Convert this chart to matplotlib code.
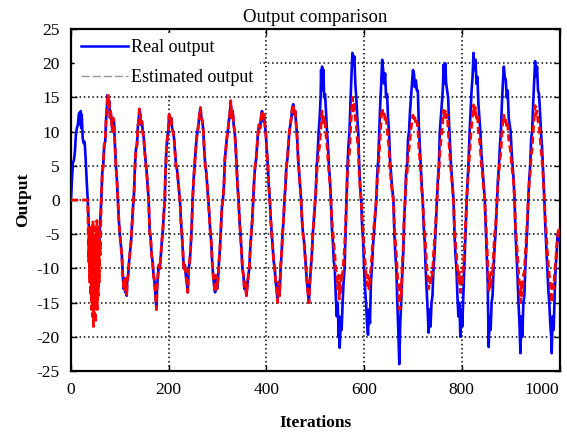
import matplotlib
matplotlib.use("Agg")
import matplotlib.pyplot as plt
from matplotlib.lines import Line2D

# --- data (iteration, output) ---
# head: 0..61, estimator still settling
iters_head = [0, 2, 4, 6, 8, 10, 12, 14, 16, 18, 19, 20, 21, 22, 24, 26, 28, 30, 32, 34,
              35, 36, 37, 38, 39, 40, 41, 42, 43, 44, 45, 46, 47, 48, 49, 50, 51, 52,
              53, 54, 55, 56, 57, 58, 59, 60, 61]
real_head = [0, 3, 5.5, 5.8, 7, 9.5, 10.5, 11, 12.5, 12.8, 11, 13, 10.5, 12.5, 9, 8.3, 8.5, 6, 3, 0.5,
             -1, -3, -5, -6, -8, -9, -10, -11, -11.5, -12, -11, -12.5, -11.5, -12, -13, -12, -11,
             -12, -10.5, -11, -9, -8, -7.5, -6, -4.5, -3, -1.5]
est_head = [0, 0, 0, 0, 0, 0, 0, 0, 0, 0, 0, 0, 0, 0, 0, 0, 0, 0, 0, 0,
            -3, -9, -4, -12, -5, -14, -4, -16, -6, -17, -3, -18.5, -5, -17, -4, -18, -6,
            -15, -3, -16, -5, -14, -4, -12, -6, -8, -3]

# middle: 62..497, estimate sits on top of the real output
iters_mid = [62, 64, 66, 68, 70, 72, 74, 75, 77, 78, 80, 81, 83, 85, 86, 88, 90, 92, 94, 96,
             98, 100, 102, 104, 106, 108, 109, 111, 112, 114, 115, 117, 119, 121, 123, 125, 127,
             129, 131, 133, 135, 137, 139, 140, 142, 143, 145, 147, 149, 151, 153, 155, 157, 159,
             161, 163, 165, 167, 169, 171, 173, 175, 176, 178, 180, 182, 184, 186, 188, 190, 192,
             193, 195, 197, 199, 201, 203, 205, 207, 209, 211, 213, 215, 217, 219, 221, 223, 225,
             227, 229, 231, 233, 235, 237, 239, 241, 243, 245, 247, 249, 251, 253, 255, 257, 259,
             261, 263, 265, 267, 269, 271, 273, 275, 277, 279, 281, 283, 285, 287, 289, 291, 293,
             295, 297, 299, 301, 303, 305, 307, 309, 311, 313, 315, 317, 319, 321, 323, 325, 327,
             329, 331, 333, 335, 337, 339, 341, 343, 345, 347, 349, 351, 353, 355, 357, 359, 361,
             363, 365, 367, 369, 371, 373, 375, 377, 379, 381, 383, 385, 387, 389, 391, 393, 395,
             397, 399, 401, 403, 405, 407, 409, 411, 413, 415, 417, 419, 421, 423, 425, 427, 429,
             431, 433, 435, 437, 439, 441, 443, 445, 447, 449, 451, 453, 455, 457, 459, 461, 463,
             465, 467, 469, 471, 473, 475, 477, 479, 481, 483, 485, 487, 489, 491, 493, 495, 497]
real_mid = [0, 4, 5, 8, 8.5, 12, 14, 16.5, 13.5, 14.5, 12, 13, 11.5, 10, 12, 11.5, 8, 5, 3, 0,
            -3, -5, -6.5, -8, -11, -13, -11.5, -13.5, -11.5, -14, -12, -11, -9, -7.5, -6, -3.5, -1,
            1, 5, 7.5, 8, 10.8, 12, 13.3, 12.5, 11, 11.5, 10, 9, 7, 5.5, 4, 2, 0,
            -4.5, -5.5, -8, -9, -11, -12, -14, -16, -13, -11, -9.5, -10, -8, -6, -4.5, -2, 0,
            3, 7, 9, 10, 12.5, 11, 12, 10.5, 10, 9, 7, 5, 4.5, 3, 1.5, 0, -3,
            -5, -7.5, -10, -9.5, -11, -12, -13.5, -10, -9, -7, -4, 0, 3, 5, 7, 9, 10,
            11, 12.5, 13.5, 12, 11.5, 10, 7, 5, 4, 2, 0, -2, -4.5, -6, -9, -11, -12.5,
            -13.5, -11, -13, -11.5, -9, -7, -4, -1, 0, 2, 6, 7.5, 9, 10, 11.5, 12.5, 14.5,
            12, 13, 11, 10, 8, 5, 2, 0, -3, -5, -7.5, -10, -11, -13, -12, -14, -12.5,
            -11, -10, -7, -5, -3, 0, 3, 5, 6, 8, 10, 11, 10.5, 12, 13, 11.5, 12.5,
            11, 9.5, 7, 5, 2, 0, -3, -5, -7, -9, -10, -12, -13, -15, -12, -14, -10,
            -8, -5, -3, 0, 2, 5, 6, 8, 10, 11, 12, 13.5, 14, 12.5, 13, 11, 9,
            6, 4, 2, 0, -3, -5, -6, -8, -10, -12, -13.5, -15, -12, -10, -8, -5, -3]

# tail: 499..1000, real output grows, estimate lags in amplitude
iters_tail = [499, 501, 503, 505, 507, 509, 511, 512, 513, 514, 516, 517, 518, 520, 522, 524, 526,
              528, 530, 532, 534, 536, 538, 540, 542, 544, 546, 548, 549, 550, 552, 554, 556, 558,
              560, 562, 564, 566, 568, 570, 572, 574, 576, 578, 580, 582, 584, 586, 588, 590, 592,
              594, 596, 598, 600, 602, 604, 606, 608, 610, 612, 614, 616, 618, 620, 622, 625, 627,
              629, 631, 633, 635, 637, 639, 641, 643, 645, 647, 649, 651, 653, 655, 657, 660, 662,
              664, 666, 668, 670, 672, 674, 676, 678, 680, 682, 684, 686, 688, 690, 692, 694, 696,
              698, 700, 702, 704, 706, 708, 710, 712, 714, 716, 718, 720, 722, 724, 726, 728, 730,
              732, 734, 736, 738, 740, 742, 744, 746, 749, 751, 753, 755, 757, 759, 761, 763, 764,
              766, 768, 770, 772, 774, 776, 778, 780, 783, 785, 787, 789, 791, 793, 795, 797, 799,
              801, 803, 805, 807, 810, 812, 814, 816, 818, 820, 822, 824, 826, 828, 830, 832, 834,
              836, 838, 840, 842, 845, 847, 849, 851, 853, 855, 857, 859, 861, 863, 865, 867, 869,
              872, 874, 876, 878, 880, 882, 884, 886, 888, 890, 892, 894, 896, 898, 900, 902, 904,
              906, 908, 910, 912, 914, 916, 918, 920, 922, 924, 926, 928, 930, 932, 934, 936, 938,
              940, 942, 944, 946, 948, 950, 952, 954, 956, 958, 960, 962, 964, 966, 969, 971, 973,
              975, 977, 979, 981, 983, 984, 986, 988, 990, 992, 994, 996, 998, 1000]
real_tail = [-1, 1, 5, 7, 10, 12, 15, 19, 16, 19.5, 17, 19, 15, 15.5, 13, 10, 8,
             5, 3, 0, -4, -6, -9, -10, -14, -17, -15, -20, -17, -21.6, -18, -19, -15, -12,
             -10, -5, 0, 5, 8, 10, 14, 18, 21.5, 20, 21, 17, 15, 12, 10, 5, 2,
             0, -4, -6, -10, -13, -15, -18, -19.7, -16, -18, -12, -10, -7, -5, -3, 0, 4,
             6, 10, 14, 17, 20.5, 19, 17, 18.5, 15, 15.5, 12, 10, 6, 4, 2, 0, -5,
             -8, -10, -15, -19, -24, -18, -15, -11, -8, -3, 0, 4, 5, 9, 10, 13, 15,
             17, 19, 18.5, 16.5, 17.5, 16, 16, 11, 8, 5, 2, 0, -4, -6, -10, -13, -16,
             -19.4, -16, -18.5, -15, -14, -10, -8, -5, 0, 3, 5, 10, 12, 14, 16, 19.8, 17,
             20, 17, 16, 15, 11, 8, 5, 3, 0, -5, -8, -10, -14, -17, -15, -20, -16,
             -18.5, -14, -10, -6, 0, 3, 6, 10, 13, 16, 18, 21.5, 19, 20.5, 17, 18, 14,
             12, 10, 7, 5, 2, 0, -4, -8, -12, -21.5, -17, -19, -15, -14, -10, -7, -5,
             0, 3, 5, 8, 10, 14, 17, 19.5, 18, 17.5, 15, 16, 12, 11, 10, 7, 5,
             3, 0, -5, -8, -11, -15, -18, -22.4, -17, -20, -15, -14, -10, -7, -4, 0, 3,
             5, 9, 10, 14, 17, 20.3, 18, 19.5, 16, 15.5, 13, 10, 8, 5, 0, -4, -7,
             -10, -13, -15, -18, -20, -22.4, -17, -19, -14, -10, -8, -5, -6, -5]
est_tail = [-1, 1, 4, 5.5, 7, 8, 10, 11.5, 12, 13, 11, 12.5, 11, 11.5, 9.5, 8, 6,
            4, 2.5, 0, -3, -4.5, -6.5, -8, -10, -11, -13, -11, -14.5, -12, -13.5, -10.5, -11, -9,
            -7, -3.5, 0, 4, 6, 7, 10, 12.5, 15, 13, 14, 12, 11, 9, 7.5, 4, 1.5,
            0, -3, -4.5, -7, -9, -11, -12.5, -11, -13, -11.5, -10, -8, -5.5, -4, -2.5, 0, 3,
            4.5, 7, 9.5, 12, 13.4, 12.5, 13, 11.5, 12, 10.5, 9, 7.5, 4.5, 3, 1.5, 0, -4,
            -6, -8, -10.5, -13, -16, -12, -14, -9.5, -7, -2.5, 0, 3, 4, 6.5, 7.5, 9, 10.5,
            11.5, 12.4, 11.5, 12, 11, 11.5, 10.5, 8, 6, 4, 1.5, 0, -3, -4.5, -7, -9.5, -11,
            -13, -11.5, -12.5, -10.5, -11, -8, -6, -4, 0, 2.5, 4, 7, 8.5, 10, 11.5, 13.1, 12,
            13, 12, 12.5, 10.5, 8, 6, 4, 2.5, 0, -4, -6, -8, -10, -12, -10.5, -13.5, -11,
            -12.5, -10, -7.5, -4.5, 0, 2.5, 4.5, 7, 9, 11, 12.5, 13.9, 12.5, 13.5, 12, 12.5, 10,
            9, 7.5, 5, 4, 1.5, 0, -3, -6, -9, -13.5, -11, -13, -10.5, -11, -8, -5, -4,
            0, 2.5, 4, 6, 7, 9.5, 11.5, 12.4, 11.5, 12, 10.5, 11, 9, 8, 7, 5, 4,
            2.5, 0, -4, -6, -8, -10.5, -12.5, -15, -12, -14, -11, -10.5, -8, -5.5, -3, 0, 2.5,
            4, 6.5, 7.5, 10, 12, 13.8, 12.5, 13, 11.5, 11, 9.5, 7.5, 6, 4, 0, -3, -5,
            -7.5, -9.5, -11, -12.5, -14, -15, -12, -13, -10.5, -9, -7, -5.5, -4, -4.7]

x_ticks = [0, 200, 400, 600, 800, 1000]
y_ticks = [-25, -20, -15, -10, -5, 0, 5, 10, 15, 20, 25]

iters = iters_head + iters_mid + iters_tail
real_out = real_head + real_mid + real_tail
est_out = est_head + real_mid + est_tail

plt.rcParams["font.family"] = ["Liberation Serif", "DejaVu Serif"]
plt.rcParams["font.size"] = 12.5
plt.rcParams["axes.unicode_minus"] = False

fig = plt.figure(figsize=(5.67, 4.32), dpi=100)
ax = fig.add_axes([0.1252, 0.1412, 0.8616, 0.7917])

ax.plot(iters, real_out, color=(0, 0, 1), lw=1.9, zorder=3)
ax.plot(iters, est_out, color=(1, 0, 0), lw=2.0, ls=(0, (2.6, 1.4)), zorder=4)

ax.set_xlim(0, 1000)
ax.set_ylim(-25, 25)
ax.set_xticks(x_ticks)
ax.set_yticks(y_ticks)
ax.grid(True, color="black", ls=(0, (1, 1.8)), lw=1.1)
ax.tick_params(direction="in", length=4, top=True, right=True, width=1, pad=8)
for sp in ax.spines.values():
    sp.set_linewidth(1.6)

labels = ax.get_xticklabels()
labels[-1].set_horizontalalignment("right")

ax.set_title("Output comparison", fontsize=13.5, pad=5)
ax.set_xlabel("Iterations", fontweight="bold", labelpad=12)
ax.set_ylabel("Output", fontweight="bold", labelpad=4)

handles = [Line2D([], [], color=(0, 0, 1), lw=1.8),
           Line2D([], [], color="#999999", lw=1.0, ls=(0, (6, 2)))]
leg = ax.legend(handles, ["Real output", "Estimated output"], loc="upper left",
                frameon=True, fancybox=False, edgecolor="white", framealpha=1,
                handlelength=2.6, handletextpad=0.15, labelspacing=0.75,
                borderaxespad=0.2, borderpad=0.35, fontsize=13)
leg.set_zorder(5)

fig.savefig("out.png", dpi=100)
